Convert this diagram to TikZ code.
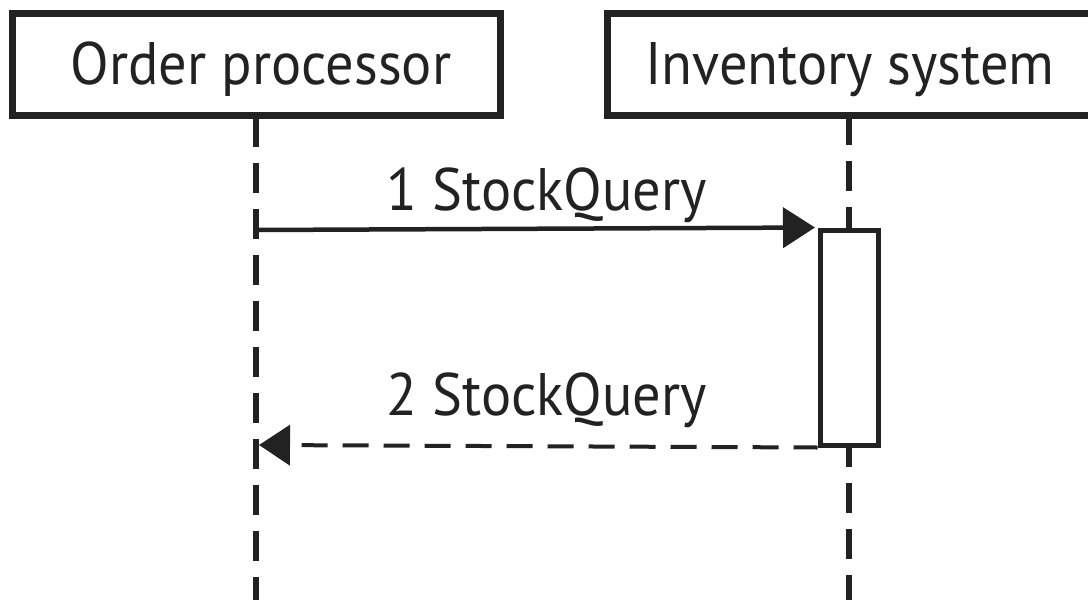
\documentclass[tikz,border=0pt]{standalone}
\usepackage{fontspec}
\setmainfont{PT Sans}[FakeStretch=0.94]
\usetikzlibrary{arrows.meta}
\definecolor{ink}{RGB}{34,34,34}
\begin{document}
\begin{tikzpicture}[x=1pt,y=-1pt,
  lifebox/.style={draw=ink,line width=7pt,inner sep=0pt,minimum height=102pt},
  lifeline/.style={draw=ink,line width=6pt,dash pattern=on 30pt off 16pt},
  actbox/.style={draw=ink,fill=white,line width=5pt,inner sep=0pt,minimum width=58pt,minimum height=215pt},
  msglabel/.style={font=\fontsize{60}{60}\selectfont,text=ink,anchor=base,inner sep=0pt},
  callmsg/.style={draw=ink,line width=4.5pt,-{Triangle[length=32pt,width=40pt]}},
  retmsg/.style={draw=ink,line width=4pt,dash pattern=on 26pt off 15pt,dash phase=2pt,-{Triangle[length=31pt,width=40pt]}}
]
\useasboundingbox (0,0) rectangle (1088,600);
\clip (0,0) rectangle (1088,600);
\fill[white] (0,0) rectangle (1088,600);
\node[lifebox,minimum width=488pt] (op) at (256,64) {};
\node[lifebox,minimum width=484pt] (inv) at (849,64) {};
\node[msglabel] (opt) at (261,84) {Order processor};
\node[msglabel] (invt) at (850,84) {Inventory system};
\coordinate (opend) at (256,600);
\coordinate (invend) at (849,600);
\draw[lifeline,dash phase=2pt] (op.south) -- (opend);
\draw[lifeline,dash phase=4pt] (inv.south) -- (invend);
\node[actbox] (act) at (849,337.5) {};
\coordinate (m1s) at (256,230);
\coordinate (m2e) at (259,445);
\draw[callmsg,shorten >=2.5pt] (m1s) -- (act.north west);
\draw[retmsg] (act.south west) -- (m2e);
\node[msglabel] (l1) at (547,210) {1 StockQuery};
\node[msglabel] (l2) at (547,415) {2 StockQuery};
\end{tikzpicture}
\end{document}
